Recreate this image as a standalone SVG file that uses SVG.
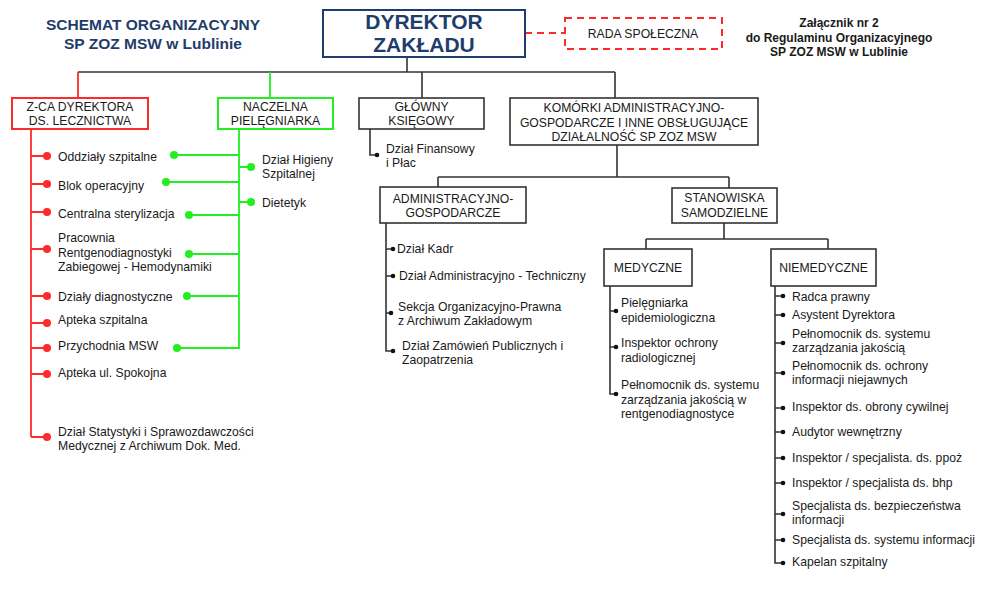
<svg xmlns="http://www.w3.org/2000/svg" width="992" height="592" viewBox="0 0 992 592">
<style>
text{font-family:"Liberation Sans",Arial,sans-serif;fill:#1a1a1a;font-size:12.2px}
.c{text-anchor:middle}
.title{font-weight:bold;font-size:15.5px;fill:#1F3D6B}
.dyr{font-weight:bold;font-size:21px;fill:#1F3D6B}
.zal{font-weight:bold;font-size:12px}
.box{fill:#fff;stroke:#333;stroke-width:1.6}
.rbox{fill:#fff;stroke:#ff2a2a;stroke-width:2}
.gbox{fill:#fff;stroke:#22ee22;stroke-width:2}
.ln{stroke:#333;stroke-width:1.6;fill:none}
.rl{stroke:#ff2a2a;stroke-width:1.8;fill:none}
.gl{stroke:#22ee22;stroke-width:1.8;fill:none}
.rd{fill:#ff2a2a}
.gd{fill:#22ee22}
.bd{fill:#111}
</style>
<rect width="992" height="592" fill="#fff"/>

<g id="title">
<text class="title c" x="153" y="30">SCHEMAT ORGANIZACYJNY</text>
<text class="title c" x="153" y="49">SP ZOZ MSW w Lublinie</text>
</g>
<g id="zalacznik">
<text class="zal c" x="839" y="27">Załącznik nr 2</text>
<text class="zal c" x="839" y="42">do Regulaminu Organizacyjnego</text>
<text class="zal c" x="839" y="56">SP ZOZ MSW w Lublinie</text>
</g>

<g id="connectors">
<path class="ln" d="M407 57V72M78 72H615M422 72V98M615 72V98"/>
<path class="rl" d="M78 72V98"/>
<path class="gl" d="M270 72V98"/>
<path d="M525 33H565" stroke="#ff2a2a" stroke-width="2" stroke-dasharray="7,5" fill="none"/>
<path class="ln" d="M617 145V177M438 177H729M438 177V187M729 177V188M724 223V239M646 239H828M646 239V249M828 239V249"/>
<path class="rl" d="M31 129V437M31 156H47M31 184H47M31 212H47M31 249H47M31 296H47M31 323H47M31 348H47M31 374H47M31 437H47"/>
<path class="gl" d="M239 129V348H177M239 155H174M239 182H166M239 215H189M239 254H189M239 296H187M239 167H251M239 202H251"/>
<path class="ln" d="M370 129V155H377"/>
<path class="ln" d="M386 223V351H393M386 249H393M386 276H393M386 313H391"/>
<path class="ln" d="M610 286V394H616M610 311H616M610 347H616"/>
<path class="ln" d="M775 286V563H783M775 296H783M775 315H783M775 343H783M775 373H783M775 408H783M775 432H783M775 458H783M775 483H783M775 514H783M775 540H783"/>
</g>

<g id="dots">
<circle class="rd" cx="47" cy="156" r="4"/><circle class="rd" cx="47" cy="184" r="4"/><circle class="rd" cx="47" cy="212" r="4"/><circle class="rd" cx="47" cy="249" r="4"/><circle class="rd" cx="47" cy="296" r="4"/><circle class="rd" cx="47" cy="323" r="4"/><circle class="rd" cx="47" cy="348" r="4"/><circle class="rd" cx="47" cy="374" r="4"/><circle class="rd" cx="47" cy="437" r="4"/>
<circle class="gd" cx="174" cy="155" r="4"/><circle class="gd" cx="166" cy="182" r="4"/><circle class="gd" cx="189" cy="215" r="4"/><circle class="gd" cx="189" cy="254" r="4"/><circle class="gd" cx="187" cy="296" r="4"/><circle class="gd" cx="177" cy="348" r="4"/><circle class="gd" cx="251" cy="167" r="4"/><circle class="gd" cx="251" cy="202" r="4"/>
<circle class="bd" cx="377" cy="155" r="2.3"/>
<circle class="bd" cx="393" cy="249" r="2.3"/><circle class="bd" cx="393" cy="276" r="2.3"/><circle class="bd" cx="391" cy="313" r="2.3"/><circle class="bd" cx="393" cy="351" r="2.3"/>
<circle class="bd" cx="616" cy="311" r="2.3"/><circle class="bd" cx="616" cy="347" r="2.3"/><circle class="bd" cx="616" cy="394" r="2.3"/>
<circle class="bd" cx="783" cy="296" r="2.3"/><circle class="bd" cx="783" cy="315" r="2.3"/><circle class="bd" cx="783" cy="343" r="2.3"/><circle class="bd" cx="783" cy="373" r="2.3"/><circle class="bd" cx="783" cy="408" r="2.3"/><circle class="bd" cx="783" cy="432" r="2.3"/><circle class="bd" cx="783" cy="458" r="2.3"/><circle class="bd" cx="783" cy="483" r="2.3"/><circle class="bd" cx="783" cy="514" r="2.3"/><circle class="bd" cx="783" cy="540" r="2.3"/><circle class="bd" cx="783" cy="563" r="2.3"/>
</g>

<g id="dyrektor">
<rect x="323" y="10" width="202" height="47" fill="#fff" stroke="#1F3D6B" stroke-width="2"/>
<text class="dyr c" x="424" y="29">DYREKTOR</text>
<text class="dyr c" x="424" y="52">ZAKŁADU</text>
</g>
<g id="rada">
<rect x="565" y="18" width="157" height="31" fill="#fff" stroke="#ff2a2a" stroke-width="2" stroke-dasharray="7,5"/>
<text class="c" x="643" y="38">RADA SPOŁECZNA</text>
</g>
<g id="zca">
<rect class="rbox" x="12" y="98" width="136" height="31"/>
<text class="c" x="80" y="111">Z-CA DYREKTORA</text>
<text class="c" x="80" y="125">DS. LECZNICTWA</text>
</g>
<g id="naczelna">
<rect class="gbox" x="218" y="98" width="115" height="31"/>
<text class="c" x="275.5" y="111">NACZELNA</text>
<text class="c" x="275.5" y="125">PIELĘGNIARKA</text>
</g>
<g id="glowny">
<rect class="box" x="359" y="98" width="125" height="31"/>
<text class="c" x="421.5" y="111">GŁÓWNY</text>
<text class="c" x="421.5" y="125">KSIĘGOWY</text>
</g>
<g id="komorki">
<rect class="box" x="510" y="98" width="248" height="47"/>
<text class="c" x="634" y="112">KOMÓRKI ADMINISTRACYJNO-</text>
<text class="c" x="634" y="127">GOSPODARCZE I INNE OBSŁUGUJĄCE</text>
<text class="c" x="634" y="141">DZIAŁALNOŚĆ SP ZOZ MSW</text>
</g>
<g id="admin">
<rect class="box" x="380" y="187" width="146" height="36"/>
<text class="c" x="453" y="203">ADMINISTRACYJNO-</text>
<text class="c" x="453" y="217">GOSPODARCZE</text>
</g>
<g id="stanowiska">
<rect class="box" x="672" y="188" width="105" height="35"/>
<text class="c" x="724.5" y="202">STANOWISKA</text>
<text class="c" x="724.5" y="217">SAMODZIELNE</text>
</g>
<g id="medyczne">
<rect class="box" x="604" y="249" width="88" height="37"/>
<text class="c" x="648" y="272">MEDYCZNE</text>
</g>
<g id="niemedyczne">
<rect class="box" x="771" y="249" width="105" height="37"/>
<text class="c" x="823.5" y="272">NIEMEDYCZNE</text>
</g>

<g id="zca-items">
<text x="58" y="161">Oddziały szpitalne</text>
<text x="58" y="190">Blok operacyjny</text>
<text x="58" y="218">Centralna sterylizacja</text>
<text x="58" y="242">Pracownia</text>
<text x="58" y="257">Rentgenodiagnostyki</text>
<text x="58" y="271">Zabiegowej - Hemodynamiki</text>
<text x="58" y="301">Działy diagnostyczne</text>
<text x="58" y="324">Apteka szpitalna</text>
<text x="58" y="350">Przychodnia MSW</text>
<text x="58" y="377">Apteka ul. Spokojna</text>
<text x="58" y="436">Dział Statystyki i Sprawozdawczości</text>
<text x="58" y="450">Medycznej z Archiwum Dok. Med.</text>
</g>
<g id="naczelna-items">
<text x="262" y="164">Dział Higieny</text>
<text x="262" y="178">Szpitalnej</text>
<text x="262" y="207">Dietetyk</text>
</g>
<g id="glowny-items">
<text x="386" y="153">Dział Finansowy</text>
<text x="386" y="167">i Płac</text>
</g>
<g id="admin-items">
<text x="397" y="253">Dział Kadr</text>
<text x="399" y="280">Dział Administracyjno - Techniczny</text>
<text x="398" y="311">Sekcja Organizacyjno-Prawna</text>
<text x="398" y="325">z Archiwum Zakładowym</text>
<text x="402" y="350">Dział Zamówień Publicznych i</text>
<text x="402" y="364">Zaopatrzenia</text>
</g>
<g id="medyczne-items">
<text x="621" y="307">Pielęgniarka</text>
<text x="621" y="322">epidemiologiczna</text>
<text x="621" y="347">Inspektor ochrony</text>
<text x="621" y="362">radiologicznej</text>
<text x="621" y="389">Pełnomocnik ds. systemu</text>
<text x="621" y="404">zarządzania jakością w</text>
<text x="621" y="418">rentgenodiagnostyce</text>
</g>
<g id="niemedyczne-items">
<text x="792" y="301">Radca prawny</text>
<text x="792" y="319">Asystent Dyrektora</text>
<text x="792" y="338">Pełnomocnik ds. systemu</text>
<text x="792" y="352">zarządzania jakością</text>
<text x="792" y="370">Pełnomocnik ds. ochrony</text>
<text x="792" y="384">informacji niejawnych</text>
<text x="792" y="411">Inspektor ds. obrony cywilnej</text>
<text x="792" y="436">Audytor wewnętrzny</text>
<text x="792" y="462">Inspektor / specjalista. ds. ppoż</text>
<text x="792" y="487">Inspektor / specjalista ds. bhp</text>
<text x="792" y="510">Specjalista ds. bezpieczeństwa</text>
<text x="792" y="524">informacji</text>
<text x="792" y="544">Specjalista ds. systemu informacji</text>
<text x="792" y="566">Kapelan szpitalny</text>
</g>
</svg>
